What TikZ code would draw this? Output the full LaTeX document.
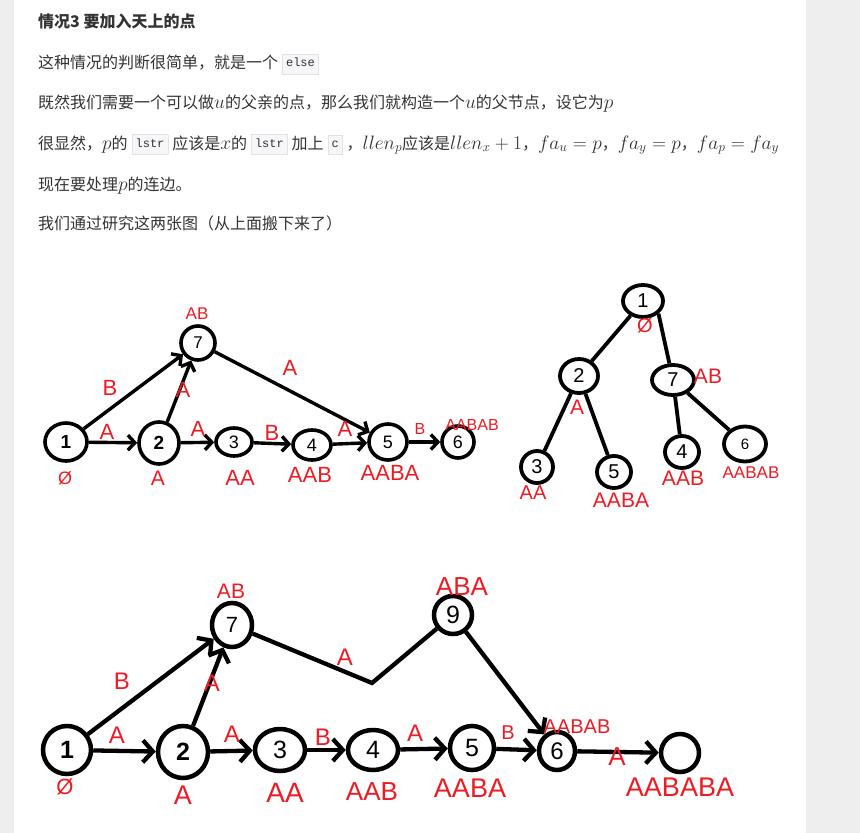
\documentclass[tikz,border=0pt]{standalone}
\usepackage{fix-cm}
\usepackage{fontspec}
\usepackage{tikz}
\usetikzlibrary{shapes.geometric, arrows.meta}
\setsansfont{Liberation Sans}
\newfontfamily\cjk{Noto Sans CJK SC}
\newfontfamily\codefont{Liberation Mono}
\definecolor{paintred}{RGB}{237,28,36}
\definecolor{bodytext}{HTML}{333333}
\definecolor{pagegray}{HTML}{EEEEEE}
\definecolor{codebg}{HTML}{F7F7F9}
\definecolor{codeline}{HTML}{E1E1E8}
\newcommand{\fs}[1]{\fontsize{#1}{#1}\selectfont}
\newcommand{\mth}[1]{{\fs{19.4}$#1$}}
\newcommand{\code}[1]{\hspace{4pt}\raisebox{2pt}{\setlength{\fboxsep}{3.5pt}\fcolorbox{codeline}{codebg}{\codefont\fs{12}\strut #1}}\hspace{4pt}}
\tikzset{
    txt/.style = {
        anchor=base west, inner sep=0pt,
        text=bodytext, font=\cjk\fs{16}
    },
    wh/.style 2 args = {
        minimum width=#1pt, minimum height=#2pt
    },
    vtx/.style = {
        ellipse, draw, inner sep=0pt,
        line width=3.6pt, font=\sffamily\fs{#1}
    },
    treevtx/.style = {
        ellipse, draw, inner sep=0pt,
        line width=3.8pt, font=\sffamily\fs{#1}
    },
    bigvtx/.style = {
        ellipse, draw, inner sep=0pt,
        line width=4.5pt, font=\sffamily\fs{#1}
    },
    lbl/.style = {
        text=paintred, inner sep=0pt,
        font=\sffamily\fs{#1}
    },
    arrow/.style = {
        -{Straight Barb[length=7pt, width=15pt]}, line width=3.4pt
    },
    treeline/.style = {
        line width=3.8pt
    },
    bigarrow/.style = {
        -{Straight Barb[length=10pt, width=22pt]}, line width=4.3pt
    }
}

\begin{document}
\begin{tikzpicture}[x=1pt, y=-1pt]

% page
\fill[pagegray] (0,0) rectangle (860,833);
\fill[white] (14,0) rectangle (806,833);
\useasboundingbox (0,0) rectangle (860,833);

% text
\node (l1) [txt, font=\cjk\bfseries\fs{16}] at (38,27.5) {情况3 要加入天上的点};
\node (l2) [txt] at (38,68.5) {这种情况的判断很简单，就是一个\code{else}};
\node (l3) [txt] at (38,108.5) {既然我们需要一个可以做\mth{u}的父亲的点，那么我们就构造一个\mth{u}的父节点，设它为\mth{p}};
\node (l4) [txt] at (38,149) {很显然，\mth{p}的\code{lstr}应该是\mth{x}的\code{lstr}加上\code{c}，\mth{llen_p}应该是\mth{llen_x+1}，\mth{fa_u=p}，\mth{fa_y=p}，\mth{fa_p=fa_y}};
\node (l5) [txt] at (38,190.5) {现在要处理\mth{p}的连边。};
\node (l6) [txt] at (38,229.5) {我们通过研究这两张图（从上面搬下来了）};

% first picture
\node (a1) [vtx=19, wh={42}{38}] at (66,442) {\bfseries 1};
\node (a2) [vtx=19, wh={40}{42}] at (159,443) {\bfseries 2};
\node (a3) [vtx=18, wh={36}{28}] at (234,442) {3};
\node (a4) [vtx=18, wh={38}{30}] at (312,445) {4};
\node (a5) [vtx=18, wh={38}{36}] at (388,442) {5};
\node (a6) [vtx=18, wh={32}{32}] at (458,442) {6};
\node (a7) [vtx=17, wh={34}{34}] at (198,343) {7};

\draw [arrow] (a1) -- (a2);
\draw [arrow] (a1) -- (a7);
\draw [arrow] (a2) -- (a7);
\draw [arrow] (a2) -- (a3);
\draw [arrow] (a3) -- (a4);
\draw [arrow] (a4) -- (a5);
\draw [arrow] (a7) -- (a5);
\draw [arrow] (a5) -- (a6);

\node (sa1) [lbl=18] at (65,478) {Ø};
\node (sa2) [lbl=21] at (158,478) {A};
\node (sa3) [lbl=22] at (240,478) {AA};
\node (sa4) [lbl=22] at (310,475) {AAB};
\node (sa5) [lbl=22] at (390,473) {AABA};
\node (sa6) [lbl=16] at (472,425) {AABAB};
\node (sa7) [lbl=17] at (197,314) {AB};
\node (ea12) [lbl=22] at (107,432) {A};
\node (ea17) [lbl=22] at (110,388) {B};
\node (ea27) [lbl=22] at (183,390) {A};
\node (ea23) [lbl=22] at (198,429) {A};
\node (ea34) [lbl=22] at (272,433) {B};
\node (ea45) [lbl=22] at (345,429) {A};
\node (ea75) [lbl=22] at (290,368) {A};
\node (ea56) [lbl=16] at (420,429) {B};

% tree
\node (t1) [treevtx=20, wh={40}{32}] at (643,301) {1};
\node (t2) [treevtx=20, wh={38}{34}] at (579,376) {2};
\node (t7) [treevtx=20, wh={42}{30}] at (673,380) {7};
\node (t3) [treevtx=20, wh={32}{32}] at (537,467) {3};
\node (t5) [treevtx=20, wh={34}{32}] at (614,472) {5};
\node (t4) [treevtx=20, wh={34}{32}] at (682,452) {4};
\node (t6) [treevtx=15, wh={42}{35}] at (745,444) {6};

\draw [treeline] (t1) -- (t2);
\draw [treeline] (t1.south east) -- (t7);
\draw [treeline] (t2) -- (t3);
\draw [treeline] (t2) -- (t5);
\draw [treeline] (t7) -- (t4);
\draw [treeline] (t7) -- (t6);

\node (st1) [lbl=20] at (645,326) {Ø};
\node (st2) [lbl=21] at (577,407) {A};
\node (st7) [lbl=21] at (708,376) {AB};
\node (st3) [lbl=20] at (533,493) {AA};
\node (st5) [lbl=21] at (621,500) {AABA};
\node (st4) [lbl=21] at (683,478) {AAB};
\node (st6) [lbl=17] at (751,473) {AABAB};

% second picture
\node (b1) [bigvtx=25, wh={48}{48}] at (67,750) {\bfseries 1};
\node (b2) [bigvtx=25, wh={50}{52}] at (183,752) {\bfseries 2};
\node (b3) [bigvtx=25, wh={50}{42}] at (280,750) {3};
\node (b4) [bigvtx=25, wh={50}{40}] at (373,750) {4};
\node (b7) [bigvtx=22, wh={40}{44}] at (232,625) {7};
\node (b9) [bigvtx=25, wh={38}{38}] at (453,615) {9};
\node (b5) [bigvtx=25, wh={44}{44}] at (472,748) {5};
\node (b6) [bigvtx=24, wh={36}{38}] at (557,751) {6};
\node (b0) [bigvtx=24, wh={38}{38}] at (680,753) {};
\coordinate (bend) at (372,683);

\draw [bigarrow] (b1) -- (b2);
\draw [bigarrow] (b1) -- (b7);
\draw [bigarrow] (b2) -- (b7);
\draw [bigarrow] (b2) -- (b3);
\draw [bigarrow] (b3) -- (b4);
\draw [bigarrow] (b4) -- (b5);
\draw [bigarrow] (b5) -- (b6);
\draw [bigarrow] (b6) -- (b0);
\draw [line width=4.3pt] (b7) -- (bend) -- (b9);
\draw [bigarrow] (b9) -- (b6);

\node (sb1) [lbl=22] at (65,787) {Ø};
\node (sb2) [lbl=27] at (183,795) {A};
\node (sb3) [lbl=28] at (285,793) {AA};
\node (sb4) [lbl=26] at (372,792) {AAB};
\node (sb5) [lbl=27] at (470,788) {AABA};
\node (sb6) [lbl=20] at (577,727) {AABAB};
\node (sb0) [lbl=27] at (680,787) {AABABA};
\node (sb7) [lbl=21] at (231,591) {AB};
\node (sb9) [lbl=26] at (462,587) {ABA};
\node (eb12) [lbl=24] at (117,735) {A};
\node (eb17) [lbl=24] at (122,681) {B};
\node (eb27) [lbl=24] at (212,683) {A};
\node (eb23) [lbl=24] at (232,734) {A};
\node (eb34) [lbl=24] at (323,737) {B};
\node (eb45) [lbl=24] at (415,733) {A};
\node (eb79) [lbl=24] at (345,657) {A};
\node (eb56) [lbl=20] at (508,733) {B};
\node (eb60) [lbl=26] at (617,757) {A};

\end{tikzpicture}
\end{document}
